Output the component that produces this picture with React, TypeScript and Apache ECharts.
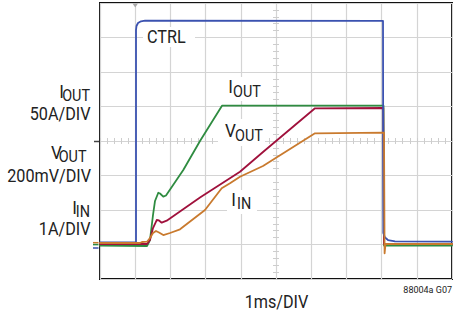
import React, { useEffect, useRef } from "react";
import * as echarts from "echarts";

// time in ms (1 ms/div), amplitude in divisions (0 = bottom of screen)
const ctrlTrace: [number, number][] = [
  [0, 1.064], [1.023, 1.064], [1.023, 7.217], [1.037, 7.333], [1.08, 7.42],
  [1.165, 7.47], [1.278, 7.487], [8.04, 7.481], [8.048, 1.333], [8.097, 1.203],
  [8.182, 1.13], [8.381, 1.093], [10, 1.081],
];
const ioutTrace: [number, number][] = [
  [0, 0.971], [1.335, 0.957], [1.42, 1.13], [1.506, 1.855], [1.563, 2.261],
  [1.656, 2.501], [1.705, 2.478], [1.798, 2.386], [1.875, 2.42], [2.366, 3.159],
  [2.841, 4.0], [3.466, 5.023], [8.054, 5.023], [8.068, 0.971], [10, 0.971],
];
const voutTrace: [number, number][] = [
  [0, 1.014], [1.335, 1.014], [1.42, 1.13], [1.506, 1.478], [1.611, 1.71],
  [1.676, 1.696], [1.753, 1.632], [1.895, 1.69], [2.841, 2.362], [3.977, 3.11],
  [4.631, 3.681], [6.108, 4.948], [8.048, 4.957], [8.068, 1.014], [10, 1.014],
];
const iinTrace: [number, number][] = [
  [0, 1.043], [1.136, 1.043], [1.193, 1.072], [1.335, 1.081], [1.42, 1.188],
  [1.506, 1.333], [1.591, 1.391], [1.676, 1.348], [1.798, 1.275], [1.989, 1.333],
  [2.273, 1.441], [2.983, 2.0], [3.457, 2.629], [3.693, 2.774], [3.977, 2.965],
  [4.631, 3.275], [6.108, 4.223], [8.068, 4.241], [8.085, 0.745], [8.111, 1.014],
  [10, 1.014],
];

const FONT = "Roboto, 'Liberation Sans', sans-serif";
const TEXT = "#222";
const GRIDC = "#d4d4d4";
const TICKC = "#cdcdcd";

function txt(x: number, y: number, text: string, size: number, align: string) {
  return {
    type: "text", x, y, scaleX: 0.9, z: 10,
    style: { text, fontSize: size, fontFamily: FONT, fill: TEXT, align, verticalAlign: "middle" },
  };
}
function box(x: number, y: number, w: number, h: number) {
  return { type: "rect", z: 1, shape: { x, y, width: w, height: h }, style: { fill: "#fff" } };
}
function mark(x1: number, x2: number, y: number, color: string) {
  return { type: "line", z: 5, shape: { x1, y1: y, x2, y2: y }, style: { stroke: color, lineWidth: 1.5 } };
}

function tickAxisX(inside: boolean) {
  return {
    type: "value", min: 0, max: 10, interval: 1, position: "bottom", offset: -138,
    axisLine: { show: false, onZero: false },
    axisTick: { show: true, inside, length: 3, lineStyle: { color: TICKC, width: 1 } },
    minorTick: { show: true, splitNumber: 5, length: 3, lineStyle: { color: TICKC, width: 1 } },
    axisLabel: { show: false }, splitLine: { show: false },
  };
}
function tickAxisY(inside: boolean) {
  return {
    type: "value", min: 0, max: 8, interval: 1, position: "left", offset: -176,
    axisLine: { show: false, onZero: false },
    axisTick: { show: true, inside, length: 3, lineStyle: { color: TICKC, width: 1 } },
    minorTick: { show: true, splitNumber: 5, length: 3, lineStyle: { color: TICKC, width: 1 } },
    axisLabel: { show: false }, splitLine: { show: false },
  };
}

function trace(data: [number, number][], color: string) {
  return {
    type: "line", data, showSymbol: false, symbol: "none", z: 3,
    lineStyle: { color, width: 1.8, cap: "round", join: "round" },
  };
}

export default function App() {
  const ref = useRef<HTMLDivElement>(null);
  useEffect(() => {
    const chart = echarts.init(ref.current!, null, { renderer: "svg" });
    chart.setOption({
      animation: false,
      backgroundColor: "#fff",
      grid: { left: 100, right: 1, top: 3, bottom: 35, show: true, borderColor: "#111", borderWidth: 2, backgroundColor: "transparent" },
      xAxis: [
        {
          type: "value", min: 0, max: 10, interval: 1,
          axisLine: { show: false, onZero: false }, axisTick: { show: false }, axisLabel: { show: false },
          splitLine: { show: true, lineStyle: { color: GRIDC, width: 1.2 } },
        },
        tickAxisX(true),
        tickAxisX(false),
      ],
      yAxis: [
        {
          type: "value", min: 0, max: 8, interval: 1,
          axisLine: { show: false, onZero: false }, axisTick: { show: false }, axisLabel: { show: false },
          splitLine: { show: true, lineStyle: { color: GRIDC, width: 1.2 } },
        },
        tickAxisY(true),
        tickAxisY(false),
      ],
      series: [
        trace(ioutTrace, "#2f8c41"),
        trace(voutTrace, "#a0113c"),
        trace(ctrlTrace, "#3b52b0"),
        trace(iinTrace, "#c97a2e"),
      ],
      graphic: [
        box(143, 27, 52, 20),
        box(226, 77, 37, 24),
        box(218, 119, 47, 27),
        box(227, 190, 30, 24),
        txt(147, 36.5, "CTRL", 18, "left"),
        txt(230.5, 86.5, "I", 19, "center"),
        txt(233, 92, "OUT", 16, "left"),
        txt(230.5, 130.5, "V", 19, "center"),
        txt(235, 136, "OUT", 16, "left"),
        txt(233.5, 199, "I", 19, "center"),
        txt(237, 203.5, "IN", 16, "left"),
        txt(61.5, 91, "I", 19, "center"),
        txt(90, 95.5, "OUT", 16, "right"),
        txt(90.5, 113.5, "50A/DIV", 18, "right"),
        txt(56.5, 151.7, "V", 19, "center"),
        txt(86.5, 157, "OUT", 16, "right"),
        txt(91, 175.5, "200mV/DIV", 18, "right"),
        txt(74.5, 207, "I", 19, "center"),
        txt(90, 212, "IN", 16, "right"),
        txt(90.5, 228.5, "1A/DIV", 18, "right"),
        txt(276.5, 301.5, "1ms/DIV", 18, "center"),
        {
          type: "text", x: 452, y: 290, z: 10,
          style: { text: "88004a G07", fontSize: 9, fontFamily: FONT, fill: TEXT, align: "right", verticalAlign: "middle" },
        },
        mark(93, 98.5, 242.7, "#c97a2e"),
        mark(93, 98.5, 244.6, "#2f8c41"),
        mark(93, 98.5, 248, "#3b52b0"),
        mark(94, 99, 141.5, "#444"),
        {
          type: "polygon", z: 5,
          shape: { points: [[132.5, 3.5], [138, 3.5], [135.2, 7.5]] },
          style: { fill: "#a8a8a8" },
        },
      ],
    });
    return () => chart.dispose();
  }, []);
  return (
    <div
      ref={ref}
      style={{ position: "fixed", left: 0, top: 0, width: 453, height: 314, background: "#fff" }}
    />
  );
}
